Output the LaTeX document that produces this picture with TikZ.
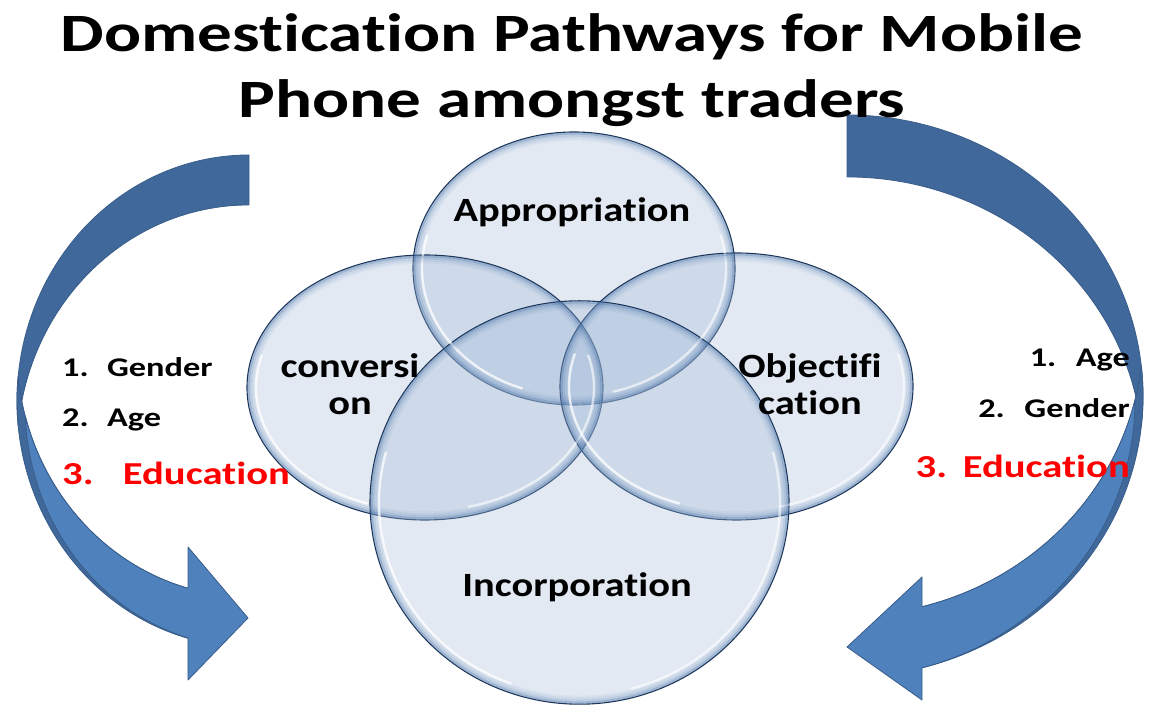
\documentclass[tikz,border=0pt]{standalone}
\usepackage{fontspec}
\setmainfont{Carlito}[Ligatures={NoCommon}]
\usetikzlibrary{shapes.geometric}
\definecolor{arrdark}{RGB}{64,104,154}
\definecolor{arrlight}{RGB}{79,129,189}
\definecolor{arrline}{RGB}{56,93,138}
\definecolor{bubfill}{RGB}{165,188,218}
\definecolor{bubline}{RGB}{28,53,87}
\definecolor{bubrim}{RGB}{62,106,163}
\definecolor{edured}{RGB}{255,0,0}
\newcommand{\hs}[2]{\scalebox{#1}[1]{#2}}
\newcommand{\glassfx}[4]{%
  \foreach \kk/\oo in {1.5/0.40,3.5/0.22,5.5/0.12,7.5/0.06}{%
    \pgfmathsetmacro{\ra}{#3-\kk}\pgfmathsetmacro{\rb}{#4-\kk}%
    \draw[bubrim, line width=2.2pt, opacity=\oo] (#1,#2) ellipse [x radius=\ra, y radius=\rb];
  }%
  \pgfmathsetmacro{\gx}{#3-9}\pgfmathsetmacro{\gy}{#4-9}%
  \pgfmathsetmacro{\sax}{#1+\gx*cos(165)}\pgfmathsetmacro{\say}{#2+\gy*sin(165)}%
  \pgfmathsetmacro{\sbx}{#1+\gx*cos(-75)}\pgfmathsetmacro{\sby}{#2+\gy*sin(-75)}%
  \draw[white, line width=2.4pt, opacity=0.75, line cap=round] (\sax,\say) arc[start angle=165, end angle=250, x radius=\gx, y radius=\gy];
  \draw[white, line width=2.4pt, opacity=0.6, line cap=round] (\sbx,\sby) arc[start angle=-75, end angle=15, x radius=\gx, y radius=\gy];
}
\tikzset{
  bubble/.style={ellipse, inner sep=0pt, draw=bubline, line width=1.1pt, fill=bubfill, fill opacity=0.32},
  backband/.style={fill=arrdark, draw=arrline, line width=0.8pt, line join=round},
  frontband/.style={fill=arrlight, draw=arrline, line width=0.8pt, line join=round},
  titletxt/.style={inner sep=0pt, anchor=base, font=\fontsize{54}{60}\selectfont\bfseries},
  bubtxt/.style={inner sep=0pt, anchor=base, font=\fontsize{34}{37}\selectfont\bfseries},
  itemtxt/.style={inner sep=0pt, font=\fontsize{27}{30}\selectfont\bfseries},
  reditem/.style={inner sep=0pt, text=edured, font=\fontsize{32}{36}\selectfont\bfseries},
}
\begin{document}
\begin{tikzpicture}[x=1pt,y=1pt]
\useasboundingbox (0,0) rectangle (1151,706);
\fill[white] (0,0) rectangle (1151,706);

% ---------- left curved arrow ----------
\draw[backband] (249,551) arc[start angle=90,end angle=185.83,x radius=232,y radius=246]
   arc[start angle=174.17,end angle=90,x radius=232,y radius=246] -- cycle;
\draw[backband] (18.2,330) arc[start angle=174.17,end angle=254.76,x radius=232,y radius=246]
   -- (188,117.7) arc[start angle=254.76,end angle=185.83,x radius=232,y radius=246] -- cycle;
\draw[frontband] (25.2,290) arc[start angle=182.6,end angle=254.2,x radius=224,y radius=242]
   -- (188,26) -- (248,88) -- (188,159) -- (188,117.7)
   arc[start angle=254.76,end angle=195.3,x radius=232,y radius=246] -- cycle;

% ---------- right curved arrow ----------
\draw[backband] (847,591) arc[start angle=90,end angle=-6.33,x radius=296,y radius=281]
   arc[start angle=6.33,end angle=90,x radius=296,y radius=281] -- cycle;
\draw[backband] (1141.25,340.5) arc[start angle=6.23,end angle=-75.32,x radius=296,y radius=281]
   -- (922,99.2) arc[start angle=-75.32,end angle=-6.23,x radius=296,y radius=281] -- cycle;
\draw[frontband] (1135,306) arc[start angle=0,end angle=-74.9,x radius=288,y radius=277.4]
   -- (922,6) -- (847,59) -- (922,129) -- (922,99.2)
   arc[start angle=-75.32,end angle=-13.37,x radius=296,y radius=281] -- cycle;

% ---------- bubbles ----------
\node[bubble, minimum width=322pt, minimum height=273pt] (app) at (574,437.5) {};
\node[bubble, minimum width=356pt, minimum height=265pt] (con) at (425,318.5) {};
\node[bubble, minimum width=353pt, minimum height=267pt] (obj) at (736.5,319.5) {};
\node[bubble, minimum width=419pt, minimum height=403.4pt] (inc) at (579.5,203.5) {};
\glassfx{574}{437.5}{161}{136.5}
\glassfx{425}{318.5}{178}{132.5}
\glassfx{736.5}{319.5}{176.5}{133.5}
\glassfx{579.5}{203.5}{209.5}{201.7}

% ---------- title ----------
\node[titletxt] (t1) at (572,654) {\hs{1.28}{Domestication Pathways for Mobile}};
\node[titletxt] (t2) at (572,588) {\hs{1.28}{Phone amongst traders}};

% ---------- bubble labels ----------
\node[bubtxt] (tapp) at (572,484) {\hs{1.19}{Appropriation}};
\node[bubtxt] (tcon1) at (350,328) {\hs{1.19}{conversi}};
\node[bubtxt] (tcon2) at (350,291) {\hs{1.19}{on}};
\node[bubtxt] (tobj1) at (810,328) {\hs{1.19}{Objectifi}};
\node[bubtxt] (tobj2) at (810,291) {\hs{1.19}{cation}};
\node[bubtxt] (tinc) at (577,109) {\hs{1.19}{Incorporation}};

% ---------- left list ----------
\node[itemtxt, anchor=base west] (l1) at (62,329) {\hs{1.27}{1.\hspace{14.5pt}Gender}};
\node[itemtxt, anchor=base west] (l2) at (62,279) {\hs{1.27}{2.\hspace{14.5pt}Age}};
\node[reditem, anchor=base west] (l3) at (62,221) {\hs{1.27}{3.\hspace{23pt}Education}};

% ---------- right list ----------
\node[itemtxt, anchor=base east] (r1) at (1130,339) {\hs{1.27}{1.\hspace{15.4pt}Age}};
\node[itemtxt, anchor=base east] (r2) at (1130,288) {\hs{1.27}{2.\hspace{15.4pt}Gender}};
\node[reditem, anchor=base east] (r3) at (1130,228) {\hs{1.27}{3.\hspace{12.3pt}Education}};
\end{tikzpicture}
\end{document}
